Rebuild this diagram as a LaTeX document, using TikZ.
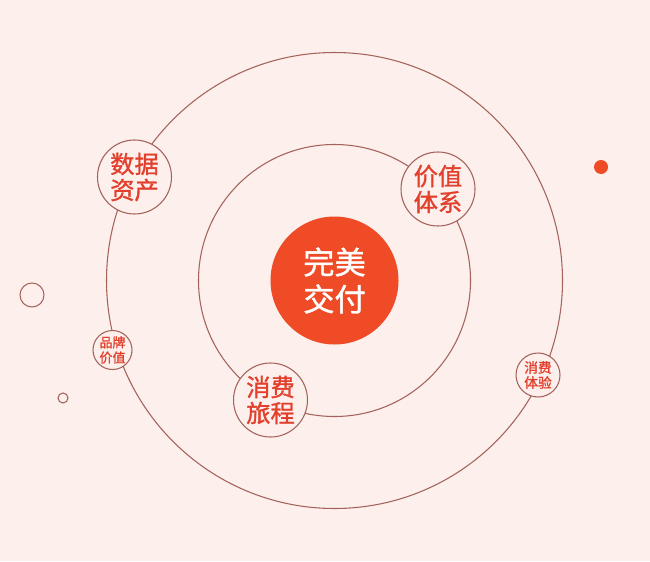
\documentclass[tikz,border=0pt]{standalone}
\usepackage{fontspec}
\setmainfont{Noto Sans CJK SC}
\newfontfamily\heavycjk[FakeBold=1.2]{Noto Sans CJK SC}
\definecolor{bgpink}{HTML}{FCEFEC}
\definecolor{ringbrown}{HTML}{A4625B}
\definecolor{corered}{HTML}{EE4B26}
\definecolor{labelred}{HTML}{E2402C}

\begin{document}
\begin{tikzpicture}[
    ring/.style={circle, draw=ringbrown, line width=0.6pt, inner sep=0pt},
    bubble/.style={ring, fill=bgpink, text=labelred, align=center},
    bigbubble/.style={bubble, minimum size=1.48cm, font=\heavycjk\fontsize{13.8}{14.8}\selectfont},
  ]
         \fill[bgpink] (0,0) rectangle (13,11.22);
         \useasboundingbox (0,0) rectangle (13,11.22);

         \node[ring, minimum size=9.12cm] (outer) at (6.69,5.61) {};
         \node[ring, minimum size=5.44cm] (inner) at (6.69,5.61) {};
         \node[circle, fill=corered, minimum size=2.56cm, text=white, align=center, font=\heavycjk\fontsize{17.8}{21}\selectfont] (core) at (6.69,5.61) {完美\\交付};

         \node[bigbubble] (shuju) at (2.69,7.68) {数据\\资产};
         \node[bigbubble] (jiazhi) at (8.76,7.44) {价值\\体系};
         \node[bigbubble] (lvcheng) at (5.41,3.22) {消费\\旅程};
         \node[bubble, minimum size=0.78cm, font=\heavycjk\fontsize{7.4}{8.6}\selectfont] (pinpai) at (2.25,4.22) {品牌\\价值};
         \node[bubble, minimum size=0.88cm, font=\heavycjk\fontsize{7.8}{8.6}\selectfont] (tiyan) at (10.76,3.72) {消费\\体验};

         \node[ring, minimum size=0.48cm] (dotbig) at (0.64,5.32) {};
         \node[ring, minimum size=0.2cm] (dotsmall) at (1.26,3.26) {};
         \node[circle, fill=corered, inner sep=0pt, minimum size=0.28cm] (dotred) at (12.02,7.88) {};
      \end{tikzpicture}
\end{document}
